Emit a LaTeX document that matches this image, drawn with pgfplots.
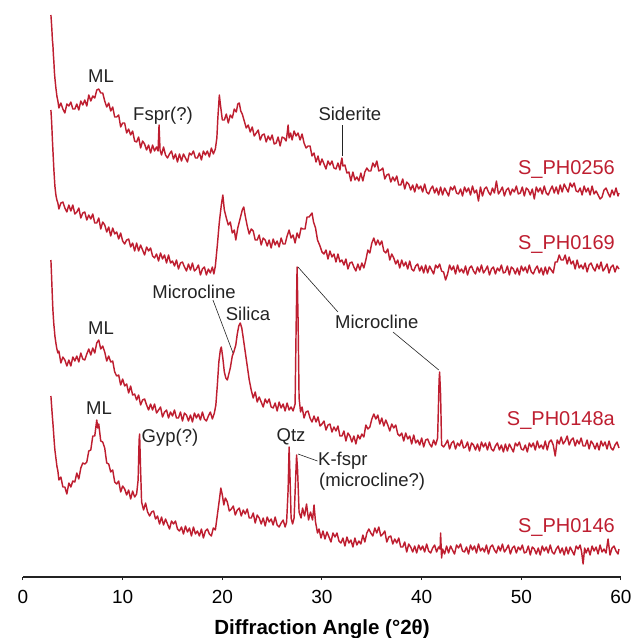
\documentclass[border=0pt]{standalone}
\usepackage{fontspec}
\setmainfont{Liberation Sans}
\usepackage{pgfplots}
\pgfplotsset{compat=1.18}
\definecolor{xrdred}{RGB}{190,30,48}
\definecolor{txt}{RGB}{35,35,35}
\begin{document}
\begin{tikzpicture}[x=1pt,y=1pt,
  trace/.style={xrdred, line width=1.45pt, line join=round, mark=none},
  annot/.style={font=\fontsize{18.5}{20}\selectfont, text=txt, inner sep=0pt},
  samp/.style={font=\fontsize{20}{21}\selectfont, text=xrdred, inner sep=0pt, anchor=east}]
\path[use as bounding box] (0,0) rectangle (634,638);
% x axis only
\begin{axis}[
  at={(23pt,61pt)}, anchor=south west,
  scale only axis, width=598pt, height=577pt,
  xmin=0, xmax=60, ymin=0, ymax=1,
  axis x line*=bottom, axis y line=none,
  axis line style={-, line width=2.4pt, color=txt},
  xtick={0,10,...,60}, tick align=outside, major tick length=3pt,
  tick style={line width=1pt, color=txt},
  /pgf/number format/assume math mode=true,
  xticklabel style={font=\fontsize{19}{19}\selectfont, anchor=base, yshift=-23pt},
  xlabel={Diffraction Angle (°2θ)},
  xlabel style={font=\fontsize{20.5}{21}\selectfont\bfseries, at={(axis description cs:0.5,0)}, anchor=base, yshift=-57pt},
]
\end{axis}
% patterns (y = offset from the top, downwards)
\begin{axis}[
  at={(23pt,61pt)}, anchor=south west,
  scale only axis, width=598pt, height=577pt,
  xmin=0, xmax=60, ymin=0, ymax=577, y dir=reverse,
  hide axis, clip=false,
]
% S_PH0256
\addplot[trace] coordinates {
(2.8,15)(2.85,22)(2.9,30)(2.95,40)(3.0,45)(3.05,55)(3.1,62)(3.15,72)(3.2,78)(3.3,88)(3.4,96)(3.5,101)
(3.6,108)(3.8,103)(4.0,109)(4.2,113)(4.4,104)(4.6,106)(4.8,102)(5.0,109)(5.2,109)(5.4,104)(5.6,110)(5.8,101)
(6.0,105)(6.2,100)(6.4,106)(6.6,95)(6.8,101)(7.0,96)(7.2,98)(7.4,90)(7.6,89)(7.8,93)(8.0,93)(8.2,101)
(8.4,107)(8.6,103)(8.8,111)(9.0,107)(9.2,117)(9.4,117)(9.6,115)(9.8,127)(10.0,123)(10.2,123)(10.4,133)(10.6,129)
(10.8,135)(11.0,131)(11.2,141)(11.4,142)(11.6,137)(11.8,148)(12.0,141)(12.2,144)(12.4,150)(12.6,145)(12.8,153)(13.0,145)
(13.2,151)(13.4,147)(13.55,151)(13.65,125)(13.75,150)(13.9,155)(14.1,147)(14.3,155)(14.5,158)(14.7,154)(14.9,151)(15.1,159)
(15.3,154)(15.5,162)(15.7,154)(15.9,161)(16.1,154)(16.3,158)(16.5,162)(16.7,153)(16.9,155)(17.1,151)(17.3,158)(17.5,158)
(17.7,153)(17.9,160)(18.1,151)(18.3,155)(18.5,151)(18.7,157)(18.9,148)(19.1,154)(19.3,149)(19.45,138)(19.55,118)(19.7,95)
(19.8,104)(19.9,112)(20.0,120)(20.2,120)(20.4,114)(20.6,123)(20.8,115)(21.0,118)(21.2,109)(21.4,112)(21.55,104)(21.7,103)
(21.85,111)(22.0,114)(22.2,121)(22.4,128)(22.6,125)(22.8,132)(23.0,127)(23.2,136)(23.4,133)(23.6,130)(23.8,140)(24.0,135)
(24.2,134)(24.4,142)(24.6,136)(24.8,140)(25.0,135)(25.2,144)(25.4,143)(25.6,137)(25.8,146)(26.0,137)(26.2,138)(26.4,141)
(26.5,134)(26.6,125)(26.7,138)(26.85,133)(27.0,140)(27.2,131)(27.4,136)(27.6,133)(27.8,140)(28.0,134)(28.2,143)(28.4,148)
(28.6,146)(28.8,146)(29.0,156)(29.2,153)(29.4,162)(29.6,156)(29.8,165)(30.0,159)(30.2,164)(30.4,169)(30.6,161)(30.8,165)
(31.0,161)(31.2,168)(31.4,169)(31.6,163)(31.8,170)(31.9,163)(32.0,158)(32.1,166)(32.3,165)(32.5,173)(32.7,172)(32.9,181)
(33.1,172)(33.3,180)(33.5,177)(33.7,181)(33.9,173)(34.1,181)(34.3,172)(34.5,168)(34.7,171)(34.9,171)(35.1,163)(35.3,167)
(35.5,161)(35.7,171)(35.9,170)(36.1,168)(36.3,179)(36.5,175)(36.7,174)(36.9,182)(37.1,177)(37.3,181)(37.5,176)(37.7,185)
(37.9,185)(38.1,179)(38.3,189)(38.5,182)(38.7,184)(38.9,190)(39.1,185)(39.3,192)(39.5,184)(39.7,189)(39.9,186)(40.1,192)
(40.3,184)(40.5,192)(40.7,194)(40.9,189)(41.1,186)(41.3,193)(41.5,188)(41.7,195)(41.9,187)(42.1,195)(42.3,188)(42.5,192)
(42.7,196)(42.9,187)(43.1,190)(43.3,186)(43.5,193)(43.7,194)(43.9,189)(44.1,196)(44.3,187)(44.5,192)(44.7,188)(44.9,195)
(45.1,186)(45.3,193)(45.5,190)(45.7,201)(45.9,187)(46.1,196)(46.3,189)(46.5,187)(46.7,192)(46.9,195)(47.1,188)(47.3,193)
(47.5,181)(47.7,194)(47.9,191)(48.1,187)(48.3,196)(48.5,190)(48.7,188)(48.9,195)(49.1,189)(49.3,192)(49.5,186)(49.7,194)
(49.9,193)(50.1,187)(50.3,196)(50.5,188)(50.7,190)(50.9,195)(51.1,189)(51.3,199)(51.5,187)(51.7,192)(51.9,188)(52.1,194)
(52.3,186)(52.5,193)(52.7,195)(52.9,190)(53.1,186)(53.3,193)(53.5,187)(53.7,194)(53.9,185)(54.1,192)(54.3,184)(54.5,188)
(54.7,192)(54.9,183)(55.1,187)(55.3,183)(55.5,191)(55.7,192)(55.9,188)(56.1,195)(56.3,186)(56.5,192)(56.7,188)(56.9,195)
(57.1,186)(57.3,194)(57.5,191)(57.7,195)(57.9,199)(58.1,197)(58.3,190)(58.5,188)(58.7,193)(58.9,197)(59.1,190)(59.3,195)
(59.5,188)(59.7,196)(59.8,193)
};
% S_PH0169
\addplot[trace] coordinates {
(2.8,110)(2.85,118)(2.9,128)(2.95,140)(3.0,150)(3.05,160)(3.1,170)(3.15,178)(3.2,186)(3.3,195)(3.4,200)(3.5,203)
(3.6,209)(3.8,203)(4.0,202)(4.2,208)(4.4,212)(4.6,205)(4.8,211)(5.0,205)(5.2,214)(5.4,212)(5.6,208)(5.8,218)
(6.0,213)(6.2,212)(6.4,220)(6.6,215)(6.8,219)(7.0,214)(7.2,223)(7.4,223)(7.6,218)(7.8,229)(8.0,222)(8.2,225)
(8.4,232)(8.6,227)(8.8,236)(9.0,228)(9.2,234)(9.4,232)(9.6,239)(9.8,233)(10.0,241)(10.2,244)(10.4,240)(10.6,239)
(10.8,247)(11.0,243)(11.2,251)(11.4,243)(11.6,251)(11.8,245)(12.0,250)(12.2,255)(12.4,247)(12.6,251)(12.8,248)(13.0,256)
(13.2,258)(13.4,254)(13.6,261)(13.8,253)(14.0,259)(14.2,255)(14.4,263)(14.6,255)(14.8,263)(15.0,261)(15.2,266)(15.4,260)
(15.6,269)(15.8,263)(16.0,262)(16.2,267)(16.4,271)(16.6,264)(16.8,270)(17.0,263)(17.2,271)(17.4,269)(17.6,265)(17.8,275)
(18.0,269)(18.2,267)(18.4,275)(18.6,269)(18.8,273)(19.0,267)(19.15,274)(19.3,266)(19.5,245)(19.7,222)(19.9,205)(20.05,195)
(20.2,210)(20.4,218)(20.6,225)(20.8,222)(21.0,233)(21.2,230)(21.35,240)(21.55,228)(21.8,218)(22.0,210)(22.15,207)(22.3,216)
(22.5,226)(22.7,234)(22.9,229)(23.1,231)(23.3,240)(23.5,240)(23.7,235)(23.9,245)(24.1,238)(24.3,240)(24.5,246)(24.7,240)
(24.9,248)(25.1,239)(25.3,245)(25.5,241)(25.7,247)(25.9,238)(26.1,244)(26.3,244)(26.5,236)(26.7,230)(26.9,238)(27.1,235)
(27.3,243)(27.5,233)(27.7,238)(27.9,228)(28.1,229)(28.3,229)(28.5,217)(28.7,217)(28.85,215)(29.0,213)(29.15,222)(29.35,228)
(29.55,240)(29.8,246)(30.0,252)(30.2,254)(30.4,250)(30.6,259)(30.8,251)(31.0,257)(31.2,254)(31.4,262)(31.6,254)(31.8,262)
(32.0,260)(32.2,265)(32.4,259)(32.6,269)(32.8,263)(33.0,262)(33.2,267)(33.4,271)(33.6,264)(33.8,270)(34.0,263)(34.2,268)
(34.4,260)(34.6,250)(34.8,253)(35.0,243)(35.2,238)(35.4,245)(35.6,240)(35.8,245)(36.0,241)(36.2,251)(36.4,253)(36.6,249)
(36.8,260)(37.0,254)(37.2,258)(37.4,264)(37.6,260)(37.8,268)(38.0,260)(38.2,266)(38.4,262)(38.6,269)(38.8,261)(39.0,269)
(39.2,271)(39.4,266)(39.6,264)(39.8,271)(40.0,266)(40.2,273)(40.4,265)(40.6,273)(40.8,266)(41.0,270)(41.2,274)(41.4,265)
(41.6,268)(41.8,264)(42.0,271)(42.2,272)(42.4,280)(42.6,274)(42.8,265)(43.0,270)(43.2,266)(43.4,274)(43.6,265)(43.8,272)
(44.0,269)(44.2,273)(44.4,266)(44.6,275)(44.8,268)(45.0,266)(45.2,271)(45.4,274)(45.6,267)(45.8,272)(46.0,265)(46.2,273)
(46.4,270)(46.6,266)(46.8,275)(47.0,269)(47.2,267)(47.4,274)(47.6,268)(47.8,271)(48.0,265)(48.2,273)(48.4,272)(48.6,266)
(48.8,275)(49.0,267)(49.2,269)(49.4,274)(49.6,268)(49.8,275)(50.0,266)(50.2,271)(50.4,267)(50.6,273)(50.8,265)(51.0,272)
(51.2,274)(51.4,269)(51.6,266)(51.8,273)(52.0,268)(52.2,275)(52.4,267)(52.6,274)(52.8,267)(53.0,270)(53.2,273)(53.4,262)
(53.6,262)(53.8,255)(54.0,260)(54.2,260)(54.4,255)(54.6,264)(54.8,257)(55.0,264)(55.2,261)(55.4,269)(55.6,260)(55.8,268)
(56.0,265)(56.2,269)(56.4,263)(56.6,272)(56.8,265)(57.0,263)(57.2,268)(57.4,271)(57.6,264)(57.8,269)(58.0,262)(58.2,271)
(58.4,268)(58.6,264)(58.8,273)(59.0,267)(59.2,265)(59.4,272)(59.6,266)(59.8,269)
};
% S_PH0148a
\addplot[trace] coordinates {
(2.8,260)(2.85,272)(2.9,285)(2.95,298)(3.0,310)(3.05,318)(3.1,325)(3.15,330)(3.2,336)(3.3,343)(3.4,349)(3.5,353)
(3.6,351)(3.8,363)(4.0,357)(4.2,360)(4.4,366)(4.6,360)(4.8,366)(5.0,357)(5.2,361)(5.4,356)(5.6,362)(5.8,353)
(6.0,359)(6.2,360)(6.4,354)(6.6,349)(6.8,355)(7.0,348)(7.2,353)(7.4,343)(7.6,340)(7.8,349)(8.0,346)(8.2,352)
(8.4,361)(8.6,356)(8.8,362)(9.0,361)(9.2,372)(9.4,376)(9.6,375)(9.8,385)(10.0,379)(10.2,386)(10.4,384)(10.6,393)
(10.8,386)(11.0,395)(11.2,394)(11.4,400)(11.6,395)(11.8,405)(12.0,400)(12.2,399)(12.4,405)(12.6,410)(12.8,404)(13.0,410)
(13.2,404)(13.4,413)(13.6,410)(13.8,407)(14.0,417)(14.2,412)(14.4,410)(14.6,418)(14.8,412)(15.0,416)(15.2,410)(15.4,418)
(15.6,418)(15.8,412)(16.0,421)(16.2,413)(16.4,415)(16.6,421)(16.8,415)(17.0,422)(17.2,413)(17.4,418)(17.6,414)(17.8,420)
(18.0,412)(18.2,419)(18.4,421)(18.6,416)(18.8,412)(19.0,419)(19.2,413)(19.35,405)(19.5,385)(19.65,362)(19.8,350)(19.9,347)
(20.05,358)(20.2,372)(20.35,378)(20.5,380)(20.65,374)(20.8,368)(21.0,356)(21.15,352)(21.35,345)(21.5,334)(21.65,326)(21.8,323)
(21.95,328)(22.1,338)(22.3,352)(22.5,366)(22.7,380)(22.9,390)(23.1,398)(23.3,392)(23.5,402)(23.7,397)(23.9,402)(24.1,407)
(24.3,399)(24.5,403)(24.7,399)(24.9,407)(25.1,408)(25.3,403)(25.5,411)(25.7,402)(25.9,408)(26.1,404)(26.3,411)(26.5,403)
(26.7,410)(26.9,407)(27.1,411)(27.3,404)(27.4,330)(27.5,267)(27.6,320)(27.7,398)(27.85,412)(28.0,407)(28.2,418)(28.4,412)
(28.6,411)(28.8,418)(29.0,422)(29.2,416)(29.4,422)(29.6,417)(29.8,426)(30.0,424)(30.2,421)(30.4,430)(30.6,425)(30.8,424)
(31.0,432)(31.2,427)(31.4,431)(31.6,426)(31.8,436)(32.0,436)(32.2,431)(32.4,441)(32.6,433)(32.8,436)(33.0,442)(33.2,436)
(33.4,444)(33.6,435)(33.8,439)(34.0,434)(34.2,437)(34.4,425)(34.6,429)(34.8,427)(35.0,419)(35.2,414)(35.4,419)(35.6,415)
(35.8,424)(36.0,418)(36.2,426)(36.4,420)(36.6,425)(36.8,431)(37.0,424)(37.2,428)(37.4,425)(37.6,434)(37.8,436)(38.0,433)
(38.2,441)(38.4,433)(38.6,439)(38.8,436)(39.0,444)(39.2,435)(39.4,443)(39.6,440)(39.8,445)(40.0,438)(40.2,447)(40.4,440)
(40.6,439)(40.8,444)(41.0,447)(41.2,440)(41.4,445)(41.6,438)(41.75,380)(41.8,372)(41.9,395)(42.0,445)(42.2,447)(42.4,444)
(42.6,440)(42.8,449)(43.0,443)(43.2,441)(43.4,449)(43.6,443)(43.8,446)(44.0,440)(44.2,448)(44.4,447)(44.6,442)(44.8,451)
(45.0,443)(45.2,445)(45.4,450)(45.6,444)(45.8,451)(46.0,442)(46.2,447)(46.4,443)(46.6,450)(46.8,442)(47.0,449)(47.2,451)
(47.4,446)(47.6,443)(47.8,450)(48.0,445)(48.2,452)(48.4,444)(48.6,451)(48.8,444)(49.0,448)(49.2,452)(49.4,443)(49.6,446)
(49.8,442)(50.0,449)(50.2,450)(50.4,445)(50.6,452)(50.8,443)(51.0,447)(51.2,443)(51.4,450)(51.6,441)(51.8,448)(52.0,445)
(52.2,449)(52.4,441)(52.6,450)(52.8,442)(53.0,440)(53.2,445)(53.4,456)(53.6,440)(53.8,444)(54.0,437)(54.2,444)(54.4,441)
(54.6,436)(54.8,445)(55.0,440)(55.2,438)(55.4,446)(55.6,440)(55.8,444)(56.0,438)(56.2,446)(56.4,446)(56.6,440)(56.8,449)
(57.0,441)(57.2,444)(57.4,449)(57.6,443)(57.8,450)(58.0,441)(58.2,446)(58.4,442)(58.6,449)(58.8,441)(59.0,448)(59.2,450)
(59.4,445)(59.6,442)(59.8,448)
};
% S_PH0146
\addplot[trace] coordinates {
(2.8,396)(2.85,403)(2.9,410)(2.95,417)(3.0,423)(3.05,430)(3.1,437)(3.15,444)(3.2,450)(3.3,458)(3.4,466)(3.5,471)
(3.6,480)(3.8,477)(4.0,487)(4.2,487)(4.4,494)(4.6,483)(4.8,487)(5.0,481)(5.2,482)(5.4,473)(5.6,479)(5.8,468)
(6.0,463)(6.2,464)(6.4,462)(6.6,451)(6.8,450)(7.0,436)(7.2,436)(7.4,420)(7.5,428)(7.6,424)(7.8,441)(8.0,442)
(8.2,448)(8.4,463)(8.6,464)(8.8,472)(9.0,470)(9.2,482)(9.4,484)(9.6,481)(9.8,492)(10.0,486)(10.2,489)(10.4,495)
(10.6,490)(10.8,499)(11.0,491)(11.2,497)(11.4,494)(11.55,480)(11.65,440)(11.7,434)(11.8,470)(11.9,502)(12.1,510)(12.3,503)
(12.5,512)(12.7,516)(12.9,512)(13.1,511)(13.3,519)(13.5,516)(13.7,524)(13.9,517)(14.1,525)(14.3,519)(14.5,524)(14.7,529)
(14.9,521)(15.1,524)(15.3,521)(15.5,529)(15.7,531)(15.9,527)(16.1,534)(16.3,526)(16.5,532)(16.7,528)(16.9,536)(17.1,527)
(17.3,534)(17.5,531)(17.7,536)(17.9,529)(18.1,538)(18.3,531)(18.5,529)(18.7,534)(18.9,536)(19.1,528)(19.3,530)(19.5,515)
(19.7,500)(19.85,488)(20.0,495)(20.15,505)(20.3,498)(20.5,502)(20.7,511)(20.9,509)(21.1,506)(21.3,515)(21.5,510)(21.7,508)
(21.9,516)(22.1,510)(22.3,514)(22.5,509)(22.7,518)(22.9,518)(23.1,513)(23.3,523)(23.5,515)(23.7,518)(23.9,524)(24.1,518)
(24.3,526)(24.5,517)(24.7,522)(24.9,519)(25.1,525)(25.3,517)(25.5,525)(25.7,527)(25.9,523)(26.1,520)(26.3,527)(26.45,522)
(26.6,490)(26.7,447)(26.8,480)(26.9,518)(27.05,524)(27.2,518)(27.35,480)(27.45,455)(27.55,470)(27.7,512)(27.9,518)(28.05,508)
(28.25,516)(28.45,504)(28.65,520)(28.85,512)(29.05,520)(29.2,505)(29.35,522)(29.55,533)(29.7,529)(29.9,538)(30.1,531)(30.3,539)
(30.5,532)(30.7,537)(30.9,542)(31.1,533)(31.3,537)(31.5,533)(31.7,541)(31.9,543)(32.1,538)(32.3,546)(32.5,537)(32.7,543)
(32.9,540)(33.1,547)(33.3,538)(33.5,545)(33.7,541)(33.9,544)(34.1,535)(34.3,542)(34.5,533)(34.7,529)(34.9,533)(35.1,536)
(35.3,528)(35.5,533)(35.7,527)(35.9,536)(36.1,534)(36.3,531)(36.5,542)(36.7,537)(36.9,536)(37.1,544)(37.3,539)(37.5,543)
(37.7,538)(37.9,547)(38.1,547)(38.3,542)(38.5,552)(38.7,544)(38.9,547)(39.1,552)(39.3,546)(39.5,553)(39.7,545)(39.9,550)
(40.1,546)(40.3,552)(40.5,544)(40.7,551)(40.9,553)(41.1,548)(41.3,545)(41.5,552)(41.7,547)(41.85,549)(41.9,533)(42.0,558)
(42.1,549)(42.3,554)(42.5,546)(42.7,553)(42.9,546)(43.1,550)(43.3,554)(43.5,545)(43.7,548)(43.9,544)(44.1,551)(44.3,552)
(44.5,547)(44.7,554)(44.9,545)(45.1,550)(45.3,546)(45.5,553)(45.7,544)(45.9,551)(46.1,548)(46.3,552)(46.5,545)(46.7,554)
(46.9,547)(47.1,545)(47.3,550)(47.5,553)(47.7,546)(47.9,551)(48.1,544)(48.3,552)(48.5,549)(48.7,545)(48.9,554)(49.1,548)
(49.3,546)(49.5,553)(49.7,547)(49.9,550)(50.1,545)(50.3,553)(50.5,552)(50.7,546)(50.9,555)(51.1,547)(51.3,549)(51.5,554)
(51.7,548)(51.9,555)(52.1,546)(52.3,551)(52.5,547)(52.7,553)(52.9,545)(53.1,552)(53.3,554)(53.5,549)(53.7,546)(53.9,553)
(54.1,548)(54.3,555)(54.5,547)(54.7,554)(54.9,547)(55.1,551)(55.3,555)(55.5,546)(55.7,549)(55.9,545)(56.05,552)(56.2,564)
(56.35,548)(56.5,553)(56.7,548)(56.9,555)(57.1,546)(57.3,551)(57.5,547)(57.7,554)(57.9,545)(58.1,552)(58.3,549)(58.5,553)
(58.7,539)(58.9,555)(59.1,548)(59.3,546)(59.5,551)(59.7,554)(59.8,549)
};
% sample names
\node[samp] at (axis cs:59.4,170) {S\_PH0256};
\node[samp] at (axis cs:59.4,245) {S\_PH0169};
\node[samp] at (axis cs:59.4,420) {S\_PH0148a};
\node[samp] at (axis cs:59.4,527) {S\_PH0146};
% phase labels
\node[annot] at (axis cs:7.83,76) {ML};
\node[annot] at (axis cs:14.05,116) {Fspr(?)};
\node[annot] at (axis cs:32.8,114) {Siderite};
\draw[txt, line width=0.7pt] (axis cs:32.0,125) -- (axis cs:32.0,156);
\node[annot] at (axis cs:7.83,328) {ML};
\node[annot] at (axis cs:17.16,292) {Microcline};
\draw[txt, line width=0.6pt] (axis cs:19.06,300) -- (axis cs:21.07,353);
\node[annot] at (axis cs:22.57,314) {Silica};
\node[annot] at (axis cs:35.5,322) {Microcline};
\draw[txt, line width=0.6pt] (axis cs:27.59,267) -- (axis cs:31.6,312);
\draw[txt, line width=0.6pt] (axis cs:37.12,332) -- (axis cs:41.72,370);
\node[annot] at (axis cs:7.63,408) {ML};
\node[annot] at (axis cs:14.75,438) {Gyp(?)};
\node[annot] at (axis cs:26.89,437) {Qtz};
\draw[txt, line width=0.6pt] (axis cs:27.59,454) -- (axis cs:29.55,461);
\node[annot, anchor=west] at (axis cs:29.6,461) {K-fspr};
\node[annot, anchor=west] at (axis cs:29.7,482) {(microcline?)};
\end{axis}
\end{tikzpicture}
\end{document}
